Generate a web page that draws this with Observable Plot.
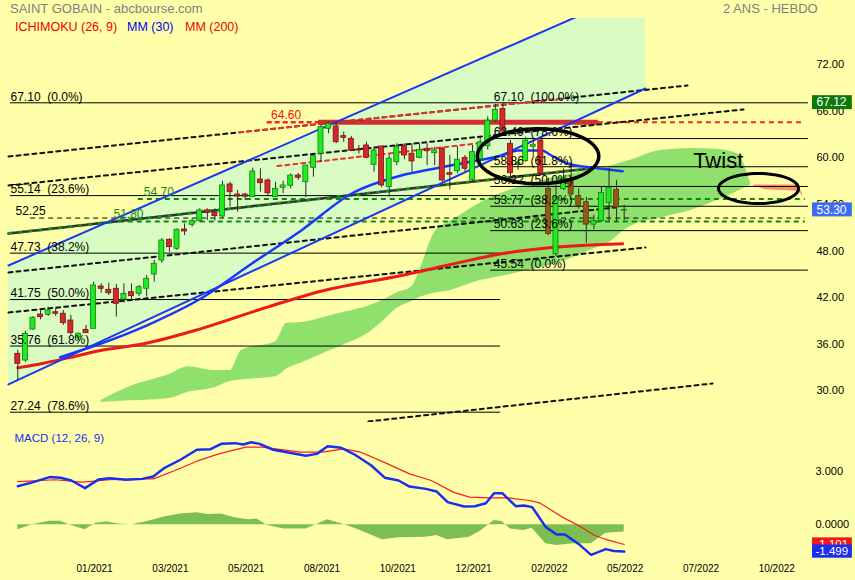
<!DOCTYPE html>
<html><head><meta charset="utf-8">
<script src="https://cdn.jsdelivr.net/npm/d3@7"></script>
<script src="https://cdn.jsdelivr.net/npm/@observablehq/plot@0.6"></script>
<style>
body{margin:0;background:#FFFFAA;}
#wrap{position:relative;width:855px;height:580px;background:#FFFFAA;overflow:hidden;font-family:"Liberation Sans",Arial,sans-serif;}
#wrap svg{display:block;}
.t{position:absolute;white-space:pre;line-height:1;}
</style></head><body>
<div id="wrap">
  <div class="t" style="left:10px;top:2px;font-size:13px;color:#808080">SAINT GOBAIN - abcbourse.com</div>
  <div class="t" style="left:723px;top:2px;font-size:13px;color:#808080">2 ANS - HEBDO</div>
  <div class="t" style="left:15px;top:21px;font-size:12.5px;color:#ee0000">ICHIMOKU (26, 9)</div>
  <div class="t" style="left:127px;top:21px;font-size:12.5px;color:#0000ee">MM (30)</div>
  <div class="t" style="left:185px;top:21px;font-size:12.5px;color:#ee0000">MM (200)</div>
</div>
<script>
// ---------- weekly candles (index 0 = first week shown) ----------
const opens  = [34.76,33.90,37.89,39.82,39.79,40.12,39.92,39.05,36.83,37.85,37.98,43.43,43.00,43.14,41.74,42.70,42.49,43.14,44.98,46.78,49.45,48.29,50.78,51.38,51.85,53.23,52.93,52.45,56.58,55.28,55.28,54.94,57.22,57.09,54.94,56.15,56.41,57.73,56.87,58.73,60.53,63.75,64.05,62.80,62.46,61.10,61.60,59.11,61.47,56.23,59.45,61.51,60.53,60.01,61.17,60.61,61.17,58.03,58.29,60.01,57.18,59.80,61.50,64.80,66.30,61.82,59.10,59.58,61.40,62.24,56.00,47.60,56.00,57.10,55.10,54.30,51.40,51.85,54.20,55.90,53.20];
const highs  = [35.19,37.67,39.57,40.34,40.77,40.56,40.34,39.70,37.42,38.41,43.99,43.78,43.86,43.69,43.78,43.78,43.56,44.85,46.78,49.58,49.58,50.87,51.51,52.16,53.44,53.44,53.44,57.00,56.87,55.80,55.45,58.67,58.60,57.31,56.87,57.00,57.95,58.00,59.02,60.53,64.18,64.60,64.60,63.31,62.76,61.60,62.02,61.38,61.47,60.40,61.82,61.82,61.82,61.82,61.82,61.38,61.38,60.31,61.47,60.31,61.60,62.50,65.30,66.90,67.10,62.24,59.67,62.67,62.30,62.67,57.40,56.50,58.60,59.40,56.00,54.90,52.60,56.20,58.60,57.10,53.90];
const lows   = [31.32,33.68,37.77,39.14,39.57,39.57,38.41,37.13,36.48,37.42,37.98,42.57,42.27,39.48,41.29,41.63,42.14,42.06,43.99,46.43,47.85,48.07,50.00,51.07,51.72,51.94,51.85,52.16,53.65,53.01,54.51,54.94,55.58,55.16,54.86,55.38,56.02,57.09,54.86,57.51,59.37,63.11,61.82,62.02,60.86,60.50,59.89,58.16,56.15,54.94,59.02,59.76,58.16,59.89,59.02,59.02,56.87,55.89,57.95,58.16,56.87,59.30,61.00,64.50,63.00,57.51,58.40,59.45,60.20,57.90,50.00,47.30,55.80,55.00,53.40,49.00,50.75,51.70,51.70,51.70,51.95];
const closes = [33.47,37.34,39.40,39.48,40.34,39.92,38.71,37.42,37.34,37.42,43.56,43.14,42.57,41.20,42.48,42.18,43.34,44.43,46.36,49.36,48.50,50.74,50.52,51.85,53.23,52.93,52.49,56.45,55.58,55.02,55.00,58.25,56.74,55.45,56.02,56.45,57.73,57.44,59.02,60.22,63.96,64.39,62.02,62.59,60.95,60.95,60.01,60.96,56.45,59.90,61.38,60.31,59.54,61.04,60.86,60.96,57.09,57.83,59.76,58.60,60.74,62.00,64.80,66.20,63.40,58.03,59.30,62.24,61.70,57.96,50.20,54.90,57.30,55.30,53.80,51.40,51.85,55.50,56.15,53.60,53.30];

// ---------- moving averages (week index, value) ----------
const ma30Idx = [5.6,10.9,17.5,24.1,30.7,37.4,44.0,50.6,54.9,59.4,63.8,66.0,69.1,70.4,72.6,76.1,79.8];
const ma30Val = [34.32,36.05,38.63,41.85,46.27,50.65,55.38,57.73,58.60,59.45,60.31,60.95,60.95,60.31,59.24,58.73,58.29];
const ma200Idx = [0,3.4,6.5,10.9,16.6,24.1,32.9,40.4,50.6,57.1,63.8,70.4,77.0,79.8];
const ma200Val = [32.96,33.55,34.20,35.19,36.05,37.98,40.77,42.92,44.85,46.27,47.65,48.46,48.84,48.93];

// ---------- Ichimoku cloud ----------
const cloudIdx = [11,15,20,22.5,26,28,29.5,34,35.5,37.5,41,43,46.5,48,50,52,53,55,57,58,61,62,66,70,72,75.5,78,80.5,85,89,92,95,96.7];
const spanTop  = [28.75,30.6,32.1,33.1,32.6,32.6,35.2,36.3,38.7,38.8,39.6,40.1,41.0,41.6,42.6,43.4,45.5,50.4,51.8,52.4,54.2,54.7,56.2,57.3,57.7,58.4,58.9,59.6,61.0,61.2,61.1,60.5,56.6];
const spanBot  = [28.5,28.7,29.0,29.8,30.4,31.2,31.4,31.8,32.8,33.6,35.1,35.9,37.6,38.8,40.6,41.5,42.0,42.6,42.9,43.2,44.2,44.4,45.2,46.1,46.7,48.1,49.1,51.0,52.3,53.3,54.4,55.7,56.5];
const twistIdx = [97.1,98.6,103.0,103.7];
const twistTop = [56.5,56.5,56.5,54.9];
const twistBot = [56.4,55.9,55.7,54.9];

// ---------- channel (blue) ----------
const chanIdx   = [-1.23, 82.8];
const chanUpper = [46.14, 82.06];
const chanLower = [30.81, 68.94];

// ---------- trend lines [i1, p1, i2, p2] ----------
const blackTrends = [[-1.23,60.18,88.35,69.33],[-1.23,56.45,95.74,66.24],[-1.23,45.24,78.85,53.61],[-1.23,40.08,82.81,48.46],[46.26,26.04,91.65,30.94]];
const greenTrends = [[-1.23,50.26,75.55,58.64]];
const redTrends   = [[28.7,63.24,71.6,67.62],[33.73,58.89,61.7,61.99]];

// ---------- horizontal levels ----------
const fibLeftVals  = [67.10,55.14,47.73,41.75,35.76,27.24];
const fibLeftPct   = ["0.0%","23.6%","38.2%","50.0%","61.8%","78.6%"];
const fibRightVals = [67.10,62.49,58.86,56.32,53.77,50.63,45.54];
const fibRightPct  = ["100.0%","78.6%","61.8%","50.0%","38.2%","23.6%","0.0%"];
const kijunLevel = 64.60;
const greenLevels = [54.70, 51.80];
const blackLevel = 52.25;
const lastClose = 53.30;
const bandValue = 67.12;

// ---------- MACD (12, 26, 9) ----------
const macdIdx = [0,2.03,4.19,5.63,7.07,8.87,10.67,12.11,14.27,16.42,17.86,19.30,21.46,23.62,25.42,26.85,28.65,29.73,30.81,31.89,33.69,35.85,38.01,39.45,40.88,42.68,44.48,46.64,48.44,50.24,51.68,53.83,55.27,56.71,58.87,60.31,61.75,62.83,63.91,65.70,66.78,67.86,69.66,71.10,72.18,73.98,75.63,77.57,78.65,80];
const macdVal = [2.16,2.39,2.67,2.63,2.48,2.05,2.54,2.61,2.52,2.57,2.70,3.17,3.64,4.20,4.23,4.53,4.57,4.49,4.62,4.53,4.20,4.03,3.86,3.97,4.40,4.31,3.92,3.32,2.63,2.48,2.14,2.01,1.86,1.27,1.02,1.04,1.21,1.77,1.77,1.04,1.08,0.99,-0.13,-0.54,-0.54,-1.07,-1.68,-1.36,-1.47,-1.499];
const sigIdx = [0,4.91,8.51,12.11,16.42,17.86,20.74,23.62,26.50,30.09,32.25,37.29,40.16,43.04,45.20,48.80,51.68,54.55,57.43,59.59,62.47,64.62,67.50,68.94,71.82,73.98,76.14,77.57,80];
const sigVal = [2.42,2.52,2.39,2.52,2.57,2.57,3.04,3.56,3.97,4.35,4.35,4.07,4.07,4.25,4.07,3.41,2.85,2.48,1.83,1.55,1.51,1.51,1.36,1.21,0.43,-0.04,-0.60,-0.82,-1.101];
const histIdx = [0,2.03,4.19,5.63,7.07,8.87,10.31,11.75,13.19,14.98,17.14,19.30,21.46,23.62,25.06,26.85,28.65,30.45,31.53,32.97,35.13,38.01,40.88,43.04,45.20,48.08,50.24,53.83,55.27,56.71,59.59,61.03,62.83,63.91,64.98,66.78,67.86,69.66,71.10,73.26,75.63,77.57,80];
const histVal = [-0.28,0.02,0.20,0.20,-0.04,-0.28,0.09,0.17,0.05,0,0.19,0.43,0.61,0.67,0.58,0.61,0.39,0.28,0.32,-0.04,-0.23,-0.23,0.28,0.02,-0.32,-0.84,-0.73,-0.69,-0.60,-0.84,-0.69,-0.36,0.24,0.19,-0.23,-0.32,-0.19,-1.06,-1.16,-1.06,-1.06,-0.47,-0.40];
const macdTicks = [0, 3];
const macdTickLabels = ["0.0000", "3.000"];

// ---------- axes ----------
const xTickIdx = [10,20,30,40,50,60,70,80,90,100];
const xTickLabels = ["01/2021","03/2021","05/2021","08/2021","10/2021","12/2021","02/2022","05/2022","07/2022","10/2022"];
const priceTicks = [30,36,42,48,54,60,66,72];

// =========================================================
const FONT = '"Liberation Sans", Arial, sans-serif';
const X0 = 17.3, PITCH = 7.58;
const xDomain = [-X0 / PITCH, (810 - X0) / PITCH];
const zip = (a, b) => a.map((i, k) => ({i, v: b[k]}));
const seg = arr => arr.flatMap(([i1, p1, i2, p2], k) => [{k, i: i1, v: p1}, {k, i: i2, v: p2}]);
const ellipse = (ci, cv, ri, rv) => d3.range(0, 64).map(k => ({i: ci + ri * Math.cos(k / 64 * 2 * Math.PI), v: cv + rv * Math.sin(k / 64 * 2 * Math.PI)}));

const candles = opens.map((o, i) => ({i, o, h: highs[i], l: lows[i], c: closes[i]}));
const bodyFill = d => d.c >= d.o ? "#22EA22" : (d.i >= 70 ? "#8E5B16" : "#D22A2A");
const bodyStroke = d => d.c >= d.o ? "#0A820A" : (d.i >= 70 ? "#5C3A08" : "#801010");

const cloud = cloudIdx.map((i, k) => ({i, t: spanTop[k], b: spanBot[k]}));
const twist = twistIdx.map((i, k) => ({i, t: twistTop[k], b: twistBot[k]}));
const chan = chanIdx.map((i, k) => ({i, u: chanUpper[k], l: chanLower[k]}));
const fibL = fibLeftVals.map((v, k) => ({v, s: v.toFixed(2) + "\u00a0\u00a0(" + fibLeftPct[k] + ")", k}));
const fibR = fibRightVals.map((v, k) => ({v, s: v.toFixed(2) + "\u00a0\u00a0(" + fibRightPct[k] + ")"}));

const LEFT = -0.96, MIDEND = 63.7, RSTART = 62.4, REND = 104.3, DEND = 103.9;
const BX1 = 104.84, BX2 = 110.1;

const pricePlot = Plot.plot({
  width: 855, height: 422, marginTop: 18, marginBottom: 0, marginLeft: 0, marginRight: 45,
  x: {domain: xDomain, axis: null},
  y: {domain: [25.91, 77.96]},
  color: {type: "identity"},
  style: {background: "transparent", fontFamily: FONT, fontSize: "11px", color: "#000"},
  marks: [
    Plot.areaY(chan, {x: "i", y1: "l", y2: "u", fill: "#D8FCC2", clip: true}),
    Plot.areaY(cloud, {x: "i", y1: "b", y2: "t", fill: "#8FE06C", curve: "monotone-x"}),
    Plot.areaY(twist, {x: "i", y1: "b", y2: "t", fill: "#FF8C6A"}),
    // fibonacci levels
    Plot.ruleY([fibLeftVals[0]], {x1: LEFT, x2: REND, stroke: "#000", strokeWidth: 1}),
    Plot.ruleY(fibLeftVals.slice(1), {x1: LEFT, x2: MIDEND, stroke: "#000", strokeWidth: 1}),
    Plot.ruleY(fibRightVals.slice(1), {x1: RSTART, x2: REND, stroke: "#000", strokeWidth: 1}),
    // horizontal dashed levels
    Plot.ruleY([blackLevel], {x1: 1.7, x2: DEND, stroke: "#000", strokeWidth: 1, strokeDasharray: "5,4"}),
    Plot.ruleY([greenLevels[0]], {x1: 15.9, x2: DEND, stroke: "#0A8A0A", strokeWidth: 2, strokeDasharray: "5,4"}),
    Plot.ruleY([greenLevels[1]], {x1: 12.2, x2: DEND, stroke: "#0A8A0A", strokeWidth: 2, strokeDasharray: "5,4"}),
    Plot.ruleY([kijunLevel], {x1: 32.9, x2: 40.9, stroke: "#FF2020", strokeWidth: 2.5, strokeDasharray: "5,3"}),
    Plot.ruleY([kijunLevel], {x1: 76.6, x2: DEND, stroke: "#FF2020", strokeWidth: 2, strokeDasharray: "5,4"}),
    Plot.ruleY([kijunLevel], {x1: 39.67, x2: 76.6, stroke: "#D23030", strokeWidth: 5}),
    // trend lines
    Plot.line(seg(greenTrends), {x: "i", y: "v", z: "k", stroke: "#1E8A1E", strokeWidth: 3, strokeDasharray: "4,6"}),
    Plot.line(seg(greenTrends), {x: "i", y: "v", z: "k", stroke: "#333", strokeWidth: 2.5, strokeDasharray: "4,6", strokeDashoffset: 5}),
    Plot.line(seg(blackTrends), {x: "i", y: "v", z: "k", stroke: "#111", strokeWidth: 2, strokeDasharray: "4,4"}),
    Plot.line(seg(redTrends), {x: "i", y: "v", z: "k", stroke: "#F03030", strokeWidth: 2, strokeDasharray: "4,4", strokeDashoffset: 4}),
    // averages & channel
    Plot.line(zip(ma200Idx, ma200Val), {x: "i", y: "v", stroke: "#EE1A1A", strokeWidth: 3, curve: "monotone-x"}),
    Plot.line(chan, {x: "i", y: "u", stroke: "#1A3AF0", strokeWidth: 2, clip: true}),
    Plot.line(chan, {x: "i", y: "l", stroke: "#1A3AF0", strokeWidth: 2, clip: true}),
    Plot.line(zip(ma30Idx, ma30Val), {x: "i", y: "v", stroke: "#1A35FF", strokeWidth: 2.5, curve: "monotone-x"}),
    // candles
    Plot.ruleX(candles, {x: "i", y1: "l", y2: "h", stroke: "#2a2a2a", strokeWidth: 1}),
    Plot.rect(candles, {x1: d => d.i - 0.33, x2: d => d.i + 0.33, y1: d => Math.min(d.o, d.c), y2: d => Math.max(d.o, d.c), fill: bodyFill, stroke: bodyStroke, strokeWidth: 0.8}),
    // annotations
    Plot.line(ellipse(68.63, 60.21, 8.02, 3.54), {x: "i", y: "v", stroke: "#000", strokeWidth: 3.5, curve: "linear-closed"}),
    Plot.line(ellipse(97.72, 56.06, 5.28, 1.93), {x: "i", y: "v", stroke: "#000", strokeWidth: 3, curve: "linear-closed"}),
    Plot.text(["Twist"], {x: () => 92.4, y: () => 59.66, fontSize: 22, fill: "#000"}),
    // labels
    Plot.text(fibL, {x: () => LEFT, y: "v", text: "s", textAnchor: "start", dy: -6, fontSize: 12, fill: "#000"}),
    Plot.text(fibR, {x: () => 62.8, y: "v", text: "s", textAnchor: "start", dy: -6, fontSize: 12, fill: "#000"}),
    Plot.text([blackLevel], {x: () => -0.3, y: d => d, text: d => d.toFixed(2), textAnchor: "start", dy: -7, fontSize: 12, fill: "#000"}),
    Plot.text(greenLevels, {x: (d, k) => [18.6, 14.6][k], y: d => d, text: d => d.toFixed(2), dy: -7, fontSize: 12, fill: "#1A8A1A"}),
    Plot.text([kijunLevel], {x: () => 35.4, y: d => d, text: d => d.toFixed(2), dy: -7, fontSize: 12, fill: "#F01010"}),
    // right axis
    Plot.axisY(priceTicks, {anchor: "right", tickSize: 0, tickPadding: 6, tickFormat: d => d.toFixed(2), fontSize: 11, label: null, textAnchor: "start"}),
    Plot.rect([bandValue], {x1: () => BX1, x2: () => BX2, y1: d => d - 0.9, y2: d => d + 0.9, fill: "#0A7A0A"}),
    Plot.text([bandValue], {x: () => BX1, y: d => d, text: d => d.toFixed(2), dx: 4, textAnchor: "start", fill: "#fff", fontSize: 12}),
    Plot.rect([lastClose], {x1: () => BX1, x2: () => BX2, y1: d => d - 0.9, y2: d => d + 0.9, fill: "#3A6CF4"}),
    Plot.text([lastClose], {x: () => BX1, y: d => d, text: d => d.toFixed(2), dx: 4, textAnchor: "start", fill: "#fff", fontSize: 12})
  ]
});

const macdLast = macdVal[macdVal.length - 1], sigLast = sigVal[sigVal.length - 1];
const macdPlot = Plot.plot({
  width: 855, height: 158, marginTop: 0, marginBottom: 20, marginLeft: 0, marginRight: 45,
  x: {domain: xDomain},
  y: {domain: [-1.998, 5.725]},
  style: {background: "transparent", fontFamily: FONT, fontSize: "11px", color: "#000"},
  marks: [
    Plot.areaY(zip(histIdx, histVal), {x: "i", y: "v", fill: "#7CBF50"}),
    Plot.line(zip(sigIdx, sigVal), {x: "i", y: "v", stroke: "#FF1A1A", strokeWidth: 1.2}),
    Plot.line(zip(macdIdx, macdVal), {x: "i", y: "v", stroke: "#1A2EF0", strokeWidth: 2.5}),
    Plot.text(["MACD (12, 26, 9)"], {frameAnchor: "top-left", dx: 14, dy: 11, textAnchor: "start", fill: "#1A2EF0", fontSize: 11.5}),
    Plot.axisX(xTickIdx, {tickSize: 0, tickPadding: 4, tickFormat: d => xTickLabels[xTickIdx.indexOf(d)], fontSize: 10, dx: 1, label: null}),
    Plot.axisY(macdTicks, {anchor: "right", tickSize: 0, tickPadding: 5, tickFormat: d => macdTickLabels[macdTicks.indexOf(d)], fontSize: 11, label: null, textAnchor: "start"}),
    Plot.rect([sigLast], {x1: () => BX1, x2: () => BX2, y1: d => d - 0.37, y2: d => d + 0.37, fill: "#F01818"}),
    Plot.text([sigLast], {x: () => BX1, y: d => d, text: d => d.toFixed(3), dx: 3, textAnchor: "start", fill: "#fff", fontSize: 11.5}),
    Plot.rect([macdLast], {x1: () => BX1, x2: () => BX2, y1: d => d - 0.37, y2: d => d + 0.37, fill: "#1A2EF0"}),
    Plot.text([macdLast], {x: () => BX1, y: d => d, text: d => d.toFixed(3), dx: 3, textAnchor: "start", fill: "#fff", fontSize: 11.5})
  ]
});

const wrap = document.getElementById("wrap");
pricePlot.style.position = "absolute"; pricePlot.style.left = "0"; pricePlot.style.top = "0";
macdPlot.style.position = "absolute"; macdPlot.style.left = "0"; macdPlot.style.top = "422px";
wrap.insertBefore(macdPlot, wrap.firstChild);
wrap.insertBefore(pricePlot, wrap.firstChild);
</script>
</body></html>
